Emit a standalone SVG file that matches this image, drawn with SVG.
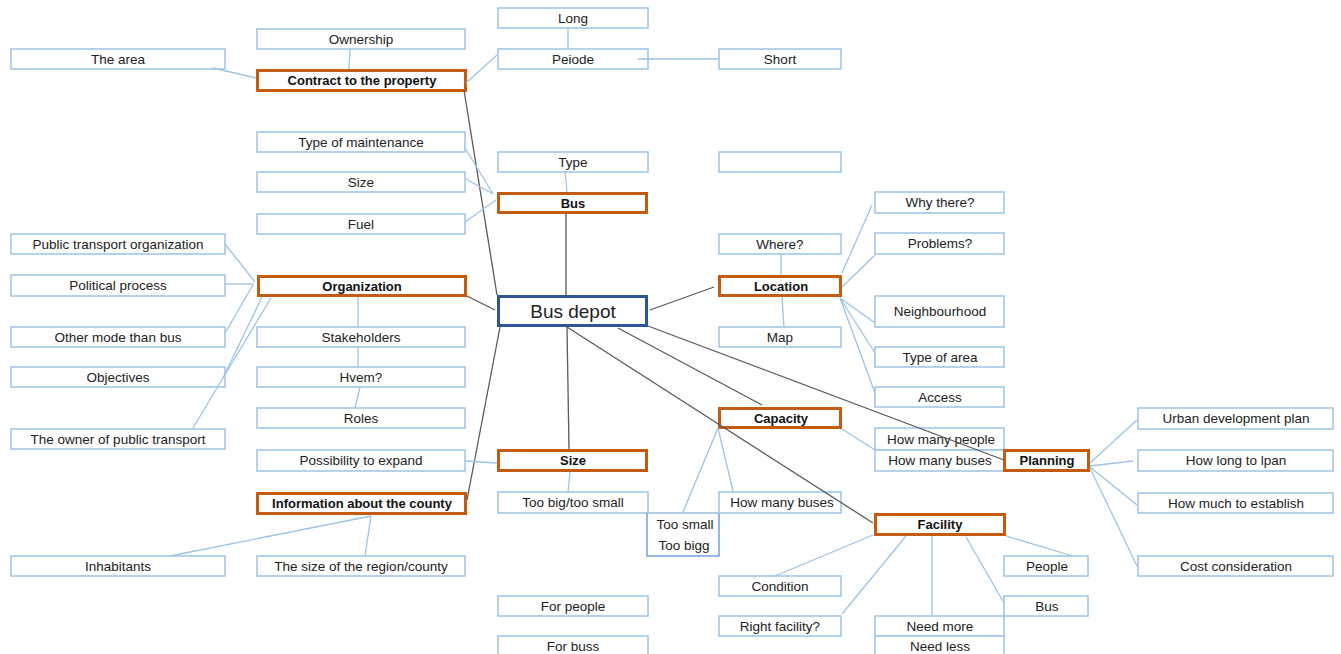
<svg xmlns="http://www.w3.org/2000/svg" width="1341" height="654" viewBox="0 0 1341 654">
<style>
.b rect{fill:#fff;stroke:#9DC3E6;stroke-width:1.5}
.o rect{fill:#fff;stroke:#C55A11;stroke-width:3}
.m rect{fill:#fff;stroke:#2F5597;stroke-width:3}
text{font-family:"Liberation Sans",Arial,sans-serif;font-size:13.5px;fill:#222;text-anchor:middle}
.o text{font-weight:bold;font-size:13px;fill:#111}
.m text{font-size:19px}
.g line{stroke:#5a5a5a;stroke-width:1.3}
.l line{stroke:#9DC3E6;stroke-width:1.3}
</style>
<rect width="1341" height="654" fill="#fff"/>
<g id="nodes">
<g id="n-the-area" class="b"><rect x="11" y="49" width="214" height="20"/><text x="118" y="63.5">The area</text></g>
<g id="n-ownership" class="b"><rect x="257" y="29" width="208" height="20"/><text x="361" y="43.5">Ownership</text></g>
<g id="n-type-maint" class="b"><rect x="257" y="132" width="208" height="20"/><text x="361" y="146.5">Type of maintenance</text></g>
<g id="n-size-bus" class="b"><rect x="257" y="172" width="208" height="20"/><text x="361" y="186.5">Size</text></g>
<g id="n-fuel" class="b"><rect x="257" y="214" width="208" height="20"/><text x="361" y="228.5">Fuel</text></g>
<g id="n-long" class="b"><rect x="498" y="8" width="150" height="20"/><text x="573" y="22.5">Long</text></g>
<g id="n-peiode" class="b"><rect x="498" y="49" width="150" height="20"/><text x="573" y="63.5">Peiode</text></g>
<g id="n-short" class="b"><rect x="719" y="49" width="122" height="20"/><text x="780" y="63.5">Short</text></g>
<g id="n-type" class="b"><rect x="498" y="152" width="150" height="20"/><text x="573" y="166.5">Type</text></g>
<g id="n-empty" class="b"><rect x="719" y="152" width="122" height="20"/></g>
<g id="n-pto" class="b"><rect x="11" y="234" width="214" height="20"/><text x="118" y="248.5">Public transport organization</text></g>
<g id="n-political" class="b"><rect x="11" y="275" width="214" height="21"/><text x="118" y="290">Political process</text></g>
<g id="n-othermode" class="b"><rect x="11" y="327" width="214" height="20"/><text x="118" y="341.5">Other mode than bus</text></g>
<g id="n-objectives" class="b"><rect x="11" y="367" width="214" height="20"/><text x="118" y="381.5">Objectives</text></g>
<g id="n-owner" class="b"><rect x="11" y="429" width="214" height="20"/><text x="118" y="443.5">The owner of public transport</text></g>
<g id="n-stakeholders" class="b"><rect x="257" y="327" width="208" height="20"/><text x="361" y="341.5">Stakeholders</text></g>
<g id="n-hvem" class="b"><rect x="257" y="367" width="208" height="20"/><text x="361" y="381.5">Hvem?</text></g>
<g id="n-roles" class="b"><rect x="257" y="408" width="208" height="20"/><text x="361" y="422.5">Roles</text></g>
<g id="n-possibility" class="b"><rect x="257" y="450" width="208" height="21"/><text x="361" y="465">Possibility to expand</text></g>
<g id="n-inhabitants" class="b"><rect x="11" y="556" width="214" height="20"/><text x="118" y="570.5">Inhabitants</text></g>
<g id="n-sizeregion" class="b"><rect x="257" y="556" width="208" height="20"/><text x="361" y="570.5">The size of the region/county</text></g>
<g id="n-toobig" class="b"><rect x="498" y="492" width="150" height="21"/><text x="573" y="507">Too big/too small</text></g>
<g id="n-toosmall" class="b"><rect x="647" y="513" width="72" height="43" style="stroke:#6FA3D8"/><line x1="647" y1="513" x2="719" y2="513" stroke="#B8D4EE" stroke-width="1.5"/><text x="685" y="529">Too small</text><text x="684" y="550">Too bigg</text></g>
<g id="n-howmanybuses-cap" class="b"><rect x="719" y="492" width="122" height="21"/><text x="782" y="507">How many buses</text></g>
<g id="n-forpeople" class="b"><rect x="498" y="596" width="150" height="20"/><text x="573" y="610.5">For people</text></g>
<g id="n-forbuss" class="b"><rect x="498" y="636" width="150" height="20"/><text x="573" y="650.5">For buss</text></g>
<g id="n-where" class="b"><rect x="719" y="234" width="122" height="20"/><text x="780" y="248.5">Where?</text></g>
<g id="n-map" class="b"><rect x="719" y="327" width="122" height="20"/><text x="780" y="341.5">Map</text></g>
<g id="n-whythere" class="b"><rect x="875" y="192" width="129" height="21"/><text x="940" y="207">Why there?</text></g>
<g id="n-problems" class="b"><rect x="875" y="233" width="129" height="21"/><text x="940" y="248">Problems?</text></g>
<g id="n-neighbourhood" class="b"><rect x="875" y="296" width="129" height="31"/><text x="940" y="316">Neighbourhood</text></g>
<g id="n-typearea" class="b"><rect x="875" y="347" width="129" height="20"/><text x="940" y="361.5">Type of area</text></g>
<g id="n-access" class="b"><rect x="875" y="387" width="129" height="20"/><text x="940" y="401.5">Access</text></g>
<g id="n-howmanypeople" class="b"><rect x="875" y="428" width="129" height="22"/><text x="941" y="444">How many people</text></g>
<g id="n-howmanybuses-pl" class="b"><rect x="875" y="450" width="129" height="21"/><text x="940" y="465">How many buses</text></g>
<g id="n-condition" class="b"><rect x="719" y="576" width="122" height="20"/><text x="780" y="590.5">Condition</text></g>
<g id="n-rightfacility" class="b"><rect x="719" y="616" width="122" height="20"/><text x="780" y="630.5">Right facility?</text></g>
<g id="n-people" class="b"><rect x="1004" y="556" width="84" height="20"/><text x="1047" y="570.5">People</text></g>
<g id="n-bus-f" class="b"><rect x="1004" y="596" width="84" height="20"/><text x="1047" y="610.5">Bus</text></g>
<g id="n-needmore" class="b"><rect x="875" y="616" width="129" height="20"/><text x="940" y="630.5">Need more</text></g>
<g id="n-needless" class="b"><rect x="875" y="636" width="129" height="20"/><text x="940" y="650.5">Need less</text></g>
<g id="n-urban" class="b"><rect x="1138" y="408" width="195" height="21"/><text x="1236" y="423">Urban development plan</text></g>
<g id="n-howlong" class="b"><rect x="1138" y="450" width="195" height="21"/><text x="1236" y="465">How long to lpan</text></g>
<g id="n-howmuch" class="b"><rect x="1138" y="493" width="195" height="20"/><text x="1236" y="507.5">How much to establish</text></g>
<g id="n-cost" class="b"><rect x="1138" y="556" width="195" height="20"/><text x="1236" y="570.5">Cost consideration</text></g>
<g id="n-contract" class="o"><rect x="257.5" y="70.5" width="208" height="20"/><text x="362" y="85">Contract to the property</text></g>
<g id="n-bus" class="o"><rect x="498.5" y="193.5" width="148" height="19"/><text x="573" y="207.5">Bus</text></g>
<g id="n-organization" class="o"><rect x="258.5" y="276.5" width="207" height="19"/><text x="362" y="290.5">Organization</text></g>
<g id="n-location" class="o"><rect x="719.5" y="276.5" width="121" height="19"/><text x="781" y="290.5">Location</text></g>
<g id="n-capacity" class="o"><rect x="719.5" y="408.5" width="121" height="19"/><text x="781" y="422.5">Capacity</text></g>
<g id="n-size" class="o"><rect x="498.5" y="450.5" width="148" height="20"/><text x="573" y="465">Size</text></g>
<g id="n-info" class="o"><rect x="257.5" y="493.5" width="208" height="20"/><text x="362" y="508">Information about the county</text></g>
<g id="n-planning" class="o"><rect x="1004.5" y="450.5" width="84" height="20"/><text x="1047" y="465">Planning</text></g>
<g id="n-facility" class="o"><rect x="875.5" y="514.5" width="129" height="20"/><text x="940" y="529">Facility</text></g>
<g id="n-busdepot" class="m"><rect x="498.5" y="296.5" width="148" height="29"/><text x="573" y="318">Bus depot</text></g>
</g>
<g id="connectors">
<g class="g">
<line x1="464" y1="90" x2="497" y2="295"/>
<line x1="566" y1="214" x2="566" y2="295"/>
<line x1="467" y1="296" x2="495" y2="310"/>
<line x1="467" y1="500" x2="500" y2="327"/>
<line x1="650" y1="310" x2="714" y2="287"/>
<line x1="618" y1="328" x2="762" y2="405"/>
<line x1="567" y1="327" x2="873" y2="523"/>
<line x1="648" y1="326" x2="1004" y2="460"/>
<line x1="567" y1="327" x2="569" y2="449"/>
</g>
<g class="l">
<line x1="213" y1="68" x2="256" y2="78"/>
<line x1="350" y1="49" x2="349" y2="69"/>
<line x1="466" y1="83" x2="497" y2="55"/>
<line x1="568" y1="28" x2="568" y2="49"/>
<line x1="638" y1="59" x2="719" y2="59"/>
<line x1="465" y1="148" x2="493" y2="194"/>
<line x1="466" y1="179" x2="493" y2="194"/>
<line x1="465" y1="222" x2="496" y2="200"/>
<line x1="565" y1="171" x2="567" y2="192"/>
<line x1="225" y1="244" x2="255" y2="282"/>
<line x1="225" y1="284" x2="254" y2="284"/>
<line x1="225" y1="333" x2="253" y2="285"/>
<line x1="262" y1="297" x2="223" y2="378"/>
<line x1="271" y1="298" x2="193" y2="428"/>
<line x1="358" y1="297" x2="358" y2="327"/>
<line x1="358" y1="347" x2="358" y2="367"/>
<line x1="360" y1="387" x2="355" y2="408"/>
<line x1="465" y1="461" x2="497" y2="463"/>
<line x1="371" y1="516" x2="170" y2="556"/>
<line x1="371" y1="516" x2="365" y2="556"/>
<line x1="570" y1="472" x2="568" y2="492"/>
<line x1="781" y1="254" x2="781" y2="275"/>
<line x1="782" y1="297" x2="784" y2="327"/>
<line x1="842" y1="273" x2="872" y2="205"/>
<line x1="842" y1="287" x2="875" y2="255"/>
<line x1="840" y1="298" x2="875" y2="323"/>
<line x1="840" y1="298" x2="875" y2="353"/>
<line x1="840" y1="298" x2="875" y2="393"/>
<line x1="842" y1="429" x2="875" y2="450"/>
<line x1="718" y1="428" x2="683" y2="512"/>
<line x1="718" y1="428" x2="733" y2="491"/>
<line x1="1090" y1="463" x2="1137" y2="420"/>
<line x1="1090" y1="466" x2="1133" y2="461"/>
<line x1="1090" y1="467" x2="1137" y2="505"/>
<line x1="1090" y1="468" x2="1137" y2="566"/>
<line x1="873" y1="535" x2="775" y2="576"/>
<line x1="906" y1="536" x2="842" y2="614"/>
<line x1="932" y1="536" x2="932" y2="615"/>
<line x1="966" y1="537" x2="1004" y2="603"/>
<line x1="1006" y1="536" x2="1073" y2="556"/>
</g>
</g>
</svg>
